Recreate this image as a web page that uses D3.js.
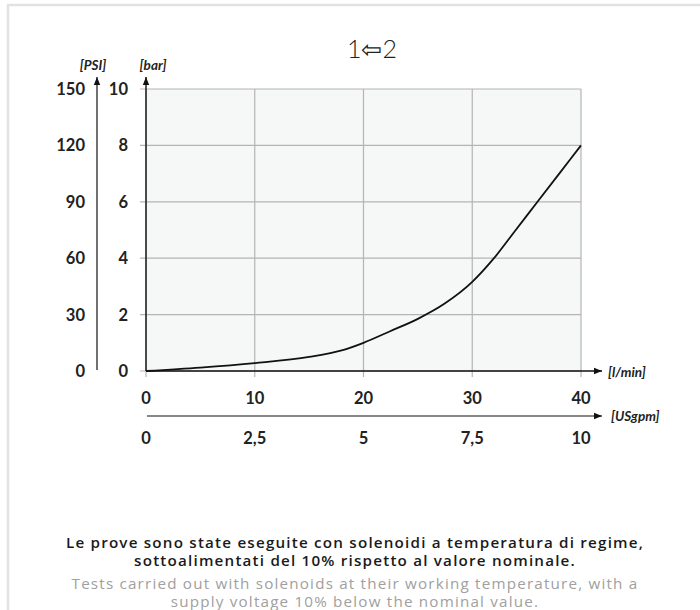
<!DOCTYPE html>
<html>
<head>
<meta charset="utf-8">
<script src="https://cdn.jsdelivr.net/npm/d3@7"></script>
<style>
  html, body { margin: 0; padding: 0; background: #fff; }
  svg { display: block; }
</style>
</head>
<body>
<svg id="chart" width="700" height="610"></svg>
<script>
// ---- data ----
const flowLmin = [0, 5, 10, 15, 18, 20, 22.5, 25, 27.5, 30, 32, 34, 36, 38, 40];
const pressureBar = [0, 0.12, 0.28, 0.5, 0.73, 1.0, 1.42, 1.85, 2.4, 3.16, 4.0, 5.0, 6.0, 7.0, 8.0];
const xTicksLmin = [0, 10, 20, 30, 40];
const xTicksUsgpm = ["0", "2,5", "5", "7,5", "10"];
const yTicksBar = [0, 2, 4, 6, 8, 10];
const yTicksPsi = [0, 30, 60, 90, 120, 150];
const title = "1\u21E62";
const noteIt = ["Le prove sono state eseguite con solenoidi a temperatura di regime,",
                "sottoalimentati del 10% rispetto al valore nominale."];
const noteEn = ["Tests carried out with solenoids at their working temperature, with a",
                "supply voltage 10% below the nominal value."];

(function () {
const svg = d3.select("#chart");
const pL = 146, pR = 581, pT = 89, pB = 371;

const x = d3.scaleLinear().domain([0, 40]).range([pL, pR]);
const y = d3.scaleLinear().domain([0, 10]).range([pB, pT]);
const yPsi = d3.scaleLinear().domain([0, 150]).range([pB, pT]);
const xUs = d3.scalePoint().domain(xTicksUsgpm).range([pL, pR]);

// frame
svg.append("path")
  .attr("d", "M8,610 V5 H700")
  .attr("fill", "none").attr("stroke", "#e2e2e2").attr("stroke-width", 2.5);

// arrow marker
const defs = svg.append("defs");
defs.append("marker").attr("id", "arr")
  .attr("viewBox", "0 0 10 10").attr("refX", 10).attr("refY", 5)
  .attr("markerWidth", 8).attr("markerHeight", 8)
  .attr("markerUnits", "userSpaceOnUse")
  .attr("orient", "auto")
  .append("path").attr("d", "M0,1 L10,5 L0,9 Z").attr("fill", "#111");

// plot background
svg.append("rect")
  .attr("x", pL).attr("y", pT)
  .attr("width", pR - pL).attr("height", pB - pT)
  .attr("fill", "#f6f7f7");

// grid
const grid = svg.append("g").attr("stroke", "#b4b4b4").attr("stroke-width", 1.2);
yTicksBar.forEach(v => {
  grid.append("line").attr("x1", pL - 6).attr("x2", pR)
    .attr("y1", y(v)).attr("y2", y(v));
});
xTicksLmin.forEach(v => {
  grid.append("line").attr("x1", x(v)).attr("x2", x(v))
    .attr("y1", pT).attr("y2", pB + 6);
});

// axes arrows
svg.append("line").attr("x1", pL).attr("x2", pL).attr("y1", pB).attr("y2", 77)
  .attr("stroke", "#111").attr("stroke-width", 1.4).attr("marker-end", "url(#arr)");
svg.append("line").attr("x1", 97).attr("x2", 97).attr("y1", 370).attr("y2", 77)
  .attr("stroke", "#111").attr("stroke-width", 1.2).attr("marker-end", "url(#arr)");
svg.append("line").attr("x1", pL).attr("x2", 602).attr("y1", pB).attr("y2", pB)
  .attr("stroke", "#111").attr("stroke-width", 1.4).attr("marker-end", "url(#arr)");
svg.append("line").attr("x1", 147).attr("x2", 602).attr("y1", 416).attr("y2", 416)
  .attr("stroke", "#111").attr("stroke-width", 1.2).attr("marker-end", "url(#arr)");

// curve
const line = d3.line()
  .x((d, i) => x(flowLmin[i]))
  .y(d => y(d))
  .curve(d3.curveMonotoneX);
svg.append("path").datum(pressureBar)
  .attr("d", line).attr("fill", "none")
  .attr("stroke", "#111").attr("stroke-width", 1.8);

const numFont = "Lato, 'Open Sans', sans-serif";
// y labels
svg.append("g").selectAll("text").data(yTicksBar).join("text")
  .attr("x", 128).attr("y", d => y(d)).attr("dy", "0.36em")
  .attr("text-anchor", "end").attr("font-family", numFont)
  .attr("font-weight", 700).attr("font-size", 16.5).attr("fill", "#222")
  .text(d => d);
svg.append("g").selectAll("text").data(yTicksPsi).join("text")
  .attr("x", 85).attr("y", d => yPsi(d)).attr("dy", "0.36em")
  .attr("text-anchor", "end").attr("font-family", numFont)
  .attr("font-weight", 700).attr("font-size", 16.5).attr("fill", "#222")
  .text(d => d);

// x labels
svg.append("g").selectAll("text").data(xTicksLmin).join("text")
  .attr("x", d => x(d)).attr("y", 398).attr("dy", "0.36em")
  .attr("text-anchor", "middle").attr("font-family", numFont)
  .attr("font-weight", 700).attr("font-size", 16.5).attr("fill", "#222")
  .text(d => d);
svg.append("g").selectAll("text").data(xTicksUsgpm).join("text")
  .attr("x", d => xUs(d)).attr("y", 438).attr("dy", "0.36em")
  .attr("text-anchor", "middle").attr("font-family", numFont)
  .attr("font-weight", 700).attr("font-size", 16.5).attr("fill", "#222")
  .text(d => d);

// unit labels
function unit(t, xx, yy, anchor) {
  svg.append("text").attr("x", xx).attr("y", yy).attr("dy", "0.36em")
    .attr("text-anchor", anchor).attr("font-family", numFont)
    .attr("font-weight", 700).attr("font-style", "italic")
    .attr("font-size", 13.5).attr("fill", "#222").text(t);
}
unit("[PSI]", 93, 65, "middle");
unit("[bar]", 153, 65, "middle");
unit("[l/min]", 608, 372, "start");
unit("[USgpm]", 611, 416, "start");

// title
svg.append("text").attr("x", 372).attr("y", 58)
  .attr("text-anchor", "middle")
  .attr("font-family", "Lato, 'DejaVu Sans', sans-serif")
  .attr("font-weight", 300).attr("font-size", 25).attr("fill", "#222")
  .text(title);

// notes (letter spacing fitted to the reference line widths)
const noteFont = "'Open Sans', 'Noto Sans', sans-serif";
function noteBlock(lines, y0, weight, color, targetW) {
  const texts = lines.map((t, i) => svg.append("text")
    .attr("x", 355).attr("y", y0 + i * 17.5)
    .attr("text-anchor", "middle").attr("font-family", noteFont)
    .attr("font-weight", weight).attr("font-size", 15.2).attr("fill", color)
    .text(t));
  const w = texts[0].node().getComputedTextLength();
  const ls = Math.max(0, Math.min(1.2, (targetW - w) / lines[0].length));
  texts.forEach(t => t.attr("letter-spacing", ls));
}
noteBlock(noteIt, 548, 600, "#1a1a1a", 600);
noteBlock(noteEn, 589, 400, "#a0a0a0", 588);
})();
</script>
</body>
</html>
